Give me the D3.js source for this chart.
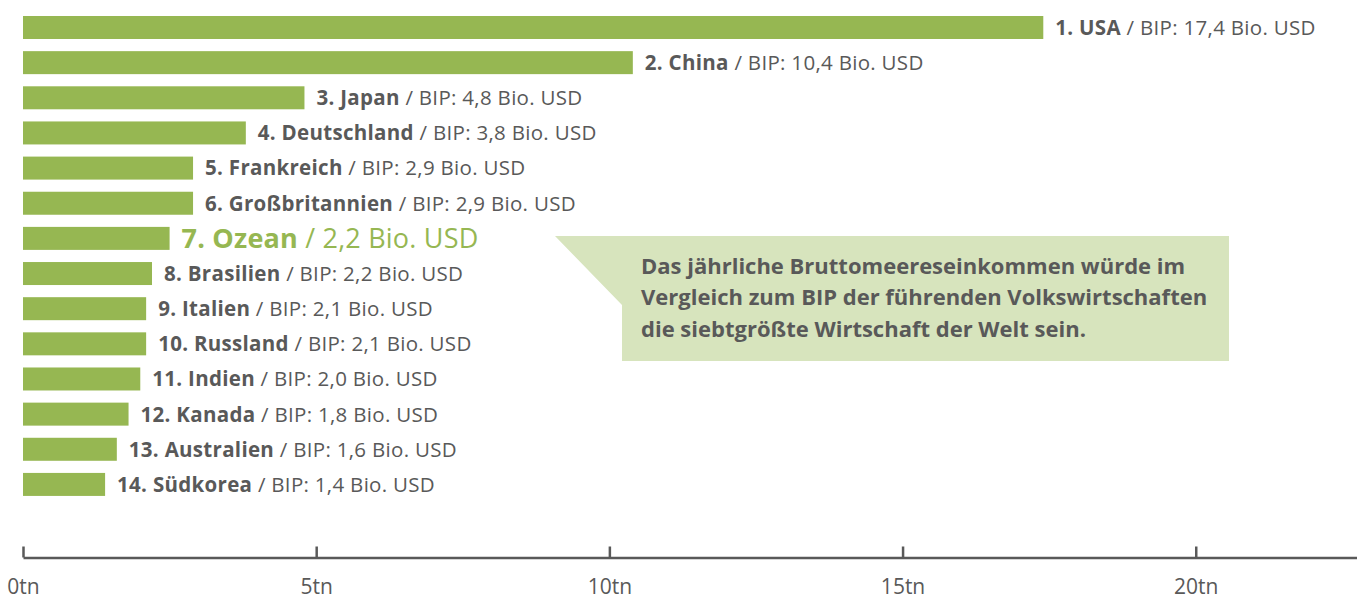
<!DOCTYPE html>
<html>
<head>
<meta charset="utf-8">
<script src="https://cdn.jsdelivr.net/npm/d3@7"></script>
<style>
  html, body { margin: 0; padding: 0; background: #fff; }
  svg { display: block; }
</style>
</head>
<body>
<svg id="chart" width="1357" height="599"></svg>
<script>
// ---- data ----
const ranks = ["1.", "2.", "3.", "4.", "5.", "6.", "7.", "8.", "9.", "10.", "11.", "12.", "13.", "14."];
const countries = ["USA", "China", "Japan", "Deutschland", "Frankreich", "Großbritannien", "Ozean",
  "Brasilien", "Italien", "Russland", "Indien", "Kanada", "Australien", "Südkorea"];
const values = [17.4, 10.4, 4.8, 3.8, 2.9, 2.9, 2.5, 2.2, 2.1, 2.1, 2.0, 1.8, 1.6, 1.4];
const valueLabels = ["17,4", "10,4", "4,8", "3,8", "2,9", "2,9", "2,2", "2,2", "2,1", "2,1", "2,0", "1,8", "1,6", "1,4"];
const highlight = "Ozean";
const tickValues = [0, 5, 10, 15, 20];
const tickLabels = ["0tn", "5tn", "10tn", "15tn", "20tn"];
const calloutLines = [
  "Das jährliche Bruttomeereseinkommen würde im",
  "Vergleich zum BIP der führenden Volkswirtschaften",
  "die siebtgrößte Wirtschaft der Welt sein."
];

// ---- styles ----
const GREEN = "#96b752";
const GRAY = "#595959";
const CALLOUT_BG = "#d7e4bd";
const LABEL_FONT = "'Open Sans', sans-serif";

const svg = d3.select("#chart");

const x = d3.scaleLinear().domain([0, 22.75]).range([23, 1357]);
const y = d3.scaleBand()
  .domain(d3.range(countries.length))
  .range([9.925, 502.0])
  .paddingInner(0.3457)
  .paddingOuter(0.17285);

// bars
svg.append("g").selectAll("rect")
  .data(values)
  .join("rect")
  .attr("x", x(0))
  .attr("y", (d, i) => y(i))
  .attr("width", d => x(d) - x(0))
  .attr("height", y.bandwidth())
  .attr("fill", GREEN);

// labels
const labels = svg.append("g").selectAll("text")
  .data(values)
  .join("text")
  .attr("x", d => x(d) + 12)
  .attr("y", (d, i) => y(i) + y.bandwidth() / 2)
  .attr("dy", "0.36em")
  .style("font-family", LABEL_FONT);

labels.each(function (d, i) {
  const t = d3.select(this);
  const isHi = countries[i] === highlight;
  t.attr("fill", isHi ? GREEN : GRAY)
   .style("font-size", isHi ? "27px" : "20.5px")
   .style("letter-spacing", isHi ? "0.2px" : "0.3px");
  t.append("tspan").attr("font-weight", "bold").text(ranks[i] + " " + countries[i]);
  if (isHi) {
    t.append("tspan").text(" / " + valueLabels[i] + " Bio. USD");
  } else {
    t.append("tspan").text(" / BIP: " + valueLabels[i] + " Bio. USD");
  }
});

// callout
const cx0 = 622, cy0 = 236, cx1 = 1229, cy1 = 361;
svg.append("path")
  .attr("d", `M555,${cy0} L${cx1},${cy0} L${cx1},${cy1} L${cx0},${cy1} L${cx0},305 Z`)
  .attr("fill", CALLOUT_BG);
svg.append("g").selectAll("text")
  .data(calloutLines)
  .join("text")
  .attr("x", 641)
  .attr("y", (d, i) => 266 + i * 31.5)
  .attr("dy", "0.36em")
  .attr("fill", GRAY)
  .attr("font-weight", "bold")
  .style("font-family", LABEL_FONT)
  .style("font-size", "22px")
  .text(d => d);

// axis
const axis = d3.axisBottom(x)
  .tickValues(tickValues)
  .tickFormat((d, i) => tickLabels[i])
  .tickSizeInner(-11)
  .tickSizeOuter(0)
  .tickPadding(22);

const gAxis = svg.append("g")
  .attr("transform", "translate(0,557.5)")
  .call(axis);
gAxis.select(".domain").attr("stroke", GRAY).attr("stroke-width", 2.5);
gAxis.selectAll(".tick line").attr("stroke", GRAY).attr("stroke-width", 2.5);
gAxis.selectAll(".tick text")
  .attr("fill", GRAY)
  .style("font-family", "'Open Sans', sans-serif")
  .style("font-size", "21px");
</script>
</body>
</html>
